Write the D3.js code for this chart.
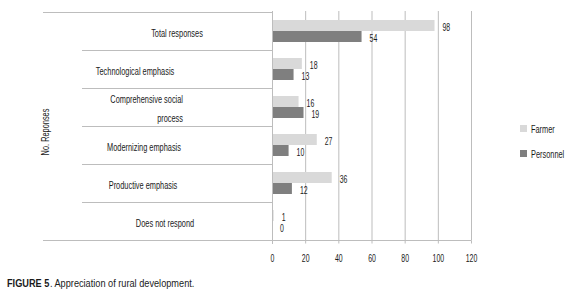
<!DOCTYPE html>
<html><head><meta charset="utf-8">
<script src="https://cdn.jsdelivr.net/npm/d3@7"></script>
<style>
body{margin:0;background:#fff;}
text{font-family:"Liberation Sans",Arial,sans-serif;fill:#1a1a1a;}
</style></head>
<body><svg id="c" width="574" height="297"></svg>
<script>
const categories = ["Total responses","Technological emphasis","Comprehensive social process","Modernizing emphasis","Productive emphasis","Does not respond"];
const categoryLines = [["Total responses"],["Technological emphasis"],["Comprehensive social","process"],["Modernizing emphasis"],["Productive emphasis"],["Does not respond"]];
const farmer = [98,18,16,27,36,1];
const personnel = [54,13,19,10,12,0];
const seriesNames = ["Farmer","Personnel"];
const xTicks = [0,20,40,60,80,100,120];
const captionBold = "FIGURE 5";
const captionText = ". Appreciation of rural development.";

// layout
const labelCx = [177,135,145,144,143,165];
const labelEnd = [null,null,183,null,null,null];
const colors = ["#d9d9d9","#7f7f7f"];
const gridColor = "#bdbdbd";
const SX_WORD = 0.74, SX_NUM = 0.66;

const svg = d3.select("#c");
function txt(parent, x, y, s, size, anchor, sx, rot){
  return parent.append("text")
    .attr("transform", `translate(${x},${y})` + (rot?` rotate(${rot})`:"") + ` scale(${sx},1)`)
    .attr("text-anchor", anchor).attr("font-size", size+"px").text(s);
}

const x = d3.scaleLinear().domain([0,120]).range([272,471]);
const y = d3.scaleBand().domain(categories).range([12,240]);
const inner = d3.scaleBand().domain(seriesNames).range([8, y.bandwidth()-8]);

// gridlines
svg.append("g").selectAll("line").data(xTicks.slice(1)).join("line")
  .attr("x1",d=>x(d)+0.5).attr("x2",d=>x(d)+0.5).attr("y1",11).attr("y2",240)
  .attr("stroke",gridColor).attr("stroke-width",1);

// bars
const rows = categories.map((c,i)=>({c,i,vals:[farmer[i],personnel[i]]}));
const g = svg.append("g").selectAll("g").data(rows).join("g")
  .attr("transform",d=>`translate(0,${y(d.c)})`);
g.selectAll("rect").data(d=>d.vals.map((v,k)=>({v,k}))).join("rect")
  .attr("x",x(0)).attr("y",d=>inner(seriesNames[d.k]))
  .attr("width",d=>x(d.v)-x(0)).attr("height",inner.bandwidth())
  .attr("fill",d=>colors[d.k]);
g.each(function(d){
  const gg = d3.select(this);
  d.vals.forEach((v,k)=>{
    txt(gg, x(v)+8, inner(seriesNames[k])+inner.bandwidth()/2+5, v, 10.5, "start", SX_NUM);
  });
});

// x axis
const xAxis = d3.axisBottom(x).tickValues(xTicks).tickSize(3).tickFormat("");
const ax = svg.append("g").attr("transform","translate(0,240.5)").call(xAxis);
ax.select(".domain").attr("stroke",gridColor).attr("d",`M${x(0)},0H${x(120)+0.5}`);
ax.selectAll(".tick line").attr("stroke",gridColor);
xTicks.forEach(t=> txt(svg, x(t)+0.5, 262, t, 10.5, "middle", SX_NUM));

// zero axis vertical
svg.append("line").attr("x1",x(0)+0.5).attr("x2",x(0)+0.5).attr("y1",11).attr("y2",244)
  .attr("stroke",gridColor);

// category separators
const seps = d3.range(categories.length+1).map(i=> i===categories.length ? 240 : y(categories[i]));
svg.append("g").selectAll("line").data(seps).join("line")
  .attr("x1",(d,i)=> (i===0||i===categories.length)?43:82).attr("x2",x(0))
  .attr("y1",d=>Math.round(d)+0.5).attr("y2",d=>Math.round(d)+0.5)
  .attr("stroke",gridColor);

// category labels
categoryLines.forEach((lines,i)=>{
  const cy = y(categories[i]) + y.bandwidth()/2 + 2;
  lines.forEach((ln,j)=>{
    const yy = cy + 3.5 + (j-(lines.length-1)/2)*19;
    if(labelEnd[i]!==null) txt(svg, labelEnd[i], yy, ln, 10, "end", SX_WORD);
    else txt(svg, labelCx[i], yy, ln, 10, "middle", SX_WORD);
  });
});

// y title
txt(svg, 49, 132, "No. Reponses", 10, "middle", SX_WORD, -90);

// legend
const lg = svg.append("g").selectAll("g").data(seriesNames).join("g")
  .attr("transform",(d,i)=>`translate(520,${125+i*25})`);
lg.append("rect").attr("width",7).attr("height",7).attr("fill",(d,i)=>colors[i]);
lg.each(function(d){ txt(d3.select(this), 11, 8, d, 10, "start", SX_WORD); });

// caption: two separate texts, condensed to fit the reference width
const capB = svg.append("text").attr("font-size","11px").attr("font-weight","bold").text(captionBold);
const capN = svg.append("text").attr("font-size","11px").text(captionText);
const wB = capB.node().getComputedTextLength(), wN = capN.node().getComputedTextLength();
const capScale = 187/(wB+wN);
capB.attr("transform",`translate(7,287) scale(${capScale},1)`);
capN.attr("transform",`translate(${7+wB*capScale+0.5},287) scale(${capScale},1)`);
</script></body></html>
